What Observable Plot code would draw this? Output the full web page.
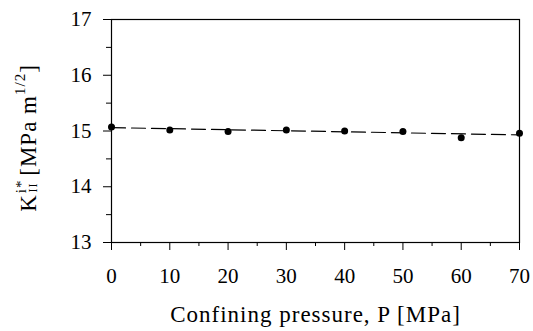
<!DOCTYPE html>
<html><head><meta charset="utf-8">
<script src="https://cdn.jsdelivr.net/npm/d3@7"></script>
<script src="https://cdn.jsdelivr.net/npm/@observablehq/plot@0.6"></script>
<style>
body{margin:0;background:#fff}
#chart svg, #chart svg text{font-family:"Liberation Serif","DejaVu Serif",serif !important}
</style>
</head><body><div id="chart"></div>
<script>
const pressure = [0, 10, 20, 30, 40, 50, 60, 70];
const kII = [15.07, 15.02, 14.99, 15.02, 15.0, 14.99, 14.88, 14.96];
const fitX = [0, 70];
const fitY = [15.06, 14.93];
const xTicks = [0, 10, 20, 30, 40, 50, 60, 70];
const xMinor = [5, 15, 25, 35, 45, 55, 65];
const yTicks = [13, 14, 15, 16, 17];
const yMinor = [13.5, 14.5, 15.5, 16.5];
const xLabel = "Confining pressure, P [MPa]";

const points = pressure.map((p, i) => ({p, k: kII[i]}));
const fit = fitX.map((p, i) => ({p, k: fitY[i]}));

const font = "Liberation Serif, DejaVu Serif, serif";
const chart = Plot.plot({
  width: 533, height: 331,
  marginLeft: 111, marginRight: 14, marginTop: 19, marginBottom: 89,
  style: {fontFamily: font, fontSize: "21px", color: "#000", background: "#fff"},
  x: {domain: [0, 70]},
  y: {domain: [13, 17]},
  marks: [
    Plot.frame({stroke: "#000", strokeWidth: 1.2}),
    Plot.axisX(xTicks, {tickSize: 8, tickPadding: 18, tickFormat: d => String(d), label: null, fontSize: 21, stroke: "#000"}),
    Plot.axisX(xMinor, {tickSize: 4, tickFormat: () => "", label: null, stroke: "#000"}),
    Plot.axisY(yTicks, {tickSize: 8, tickPadding: 12, tickFormat: d => String(d), label: null, fontSize: 21, stroke: "#000"}),
    Plot.axisY(yMinor, {tickSize: 5, tickFormat: () => "", label: null, stroke: "#000"}),
    Plot.line(fit, {x: "p", y: "k", stroke: "#000", strokeWidth: 1.2, strokeDasharray: "14,6"}),
    Plot.dot(points, {x: "p", y: "k", r: 3.5, fill: "#000"}),
    Plot.text([xLabel], {frameAnchor: "bottom", dy: 72, text: d => d, lineAnchor: "middle", fontSize: 23})
  ]
});
document.getElementById("chart").appendChild(chart);
d3.select(chart).selectAll("text").filter(function() { return this.textContent === xLabel; }).style("letter-spacing", "1px");

// y-axis label with superscripts / subscripts
const svg = d3.select(chart);
const t = svg.append("text")
  .attr("transform", "translate(36,138) rotate(-90)")
  .attr("text-anchor", "middle")
  .attr("font-size", 23)
  .style("letter-spacing", "1px")
  .attr("fill", "#000");
t.append("tspan").text("K");
t.append("tspan").attr("font-size", 15).attr("dx", 1).attr("dy", -10).text("i*");
t.append("tspan").attr("font-size", 12).attr("dx", -13).attr("dy", 11).text("II");
t.append("tspan").attr("dy", -1).text(" [MPa m");
t.append("tspan").attr("font-size", 15).attr("dy", -11).text("1/2");
t.append("tspan").attr("dy", 11).text("]");
</script>
</body></html>
